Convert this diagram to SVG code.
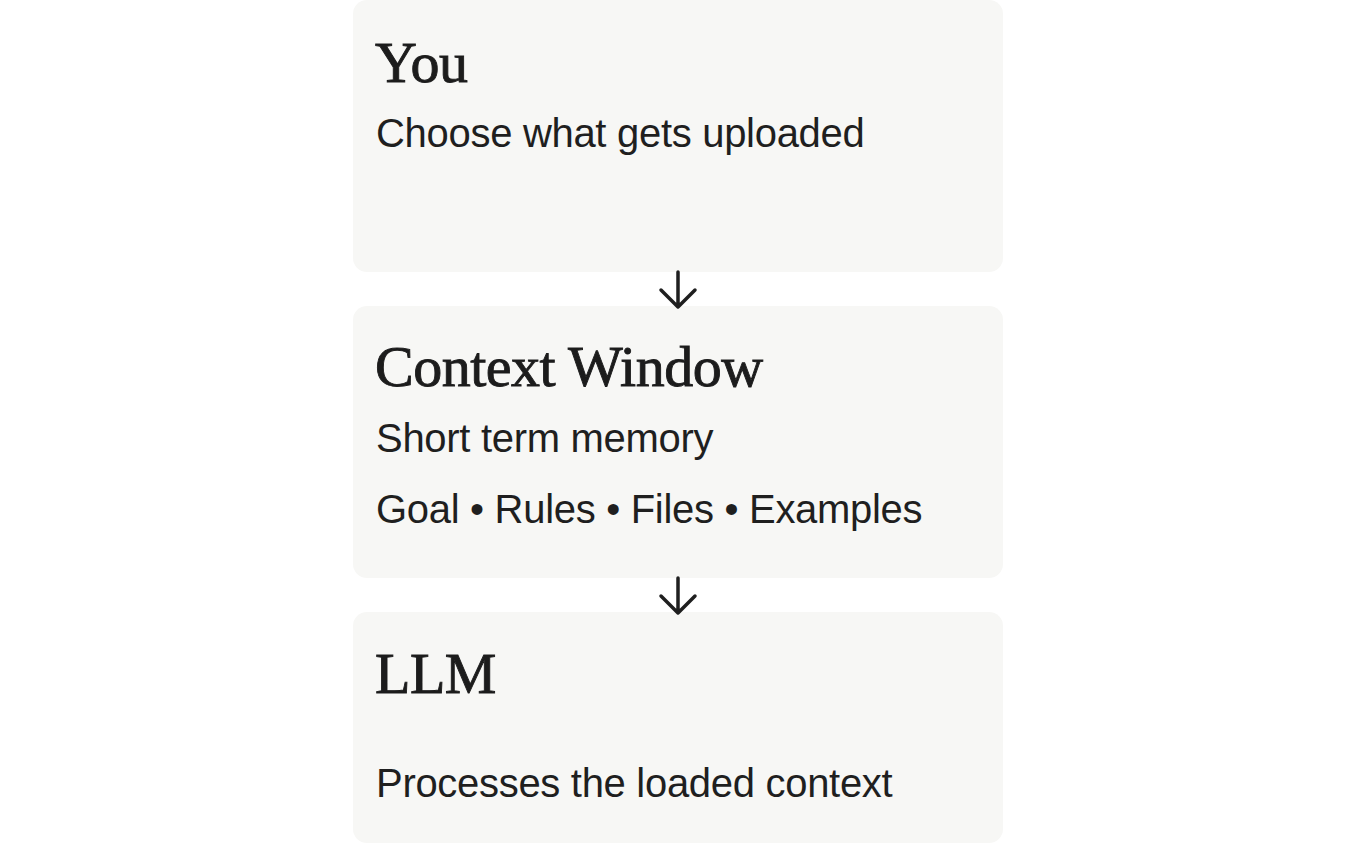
<svg xmlns="http://www.w3.org/2000/svg" width="1356" height="844" viewBox="0 0 1356 844">
  <defs>
    <style>
      .box { fill: #F7F7F5; }
      .title { font-family: "Liberation Serif", "DejaVu Serif", serif; font-size: 58px; fill: #1c1c1c; stroke: #1c1c1c; stroke-width: 0.9px; letter-spacing: -0.5px; }
      .body { font-family: "Liberation Sans", Arial, sans-serif; font-size: 40px; fill: #1f1f1f; letter-spacing: -0.3px; }
      .conn { fill: none; stroke: #1f1f1f; stroke-width: 3.5; stroke-linecap: round; stroke-linejoin: round; }
    </style>
  </defs>
  <rect width="1356" height="844" fill="#ffffff"/>
  <g id="node-you">
    <rect class="box" x="353" y="0" width="650" height="272" rx="14"/>
    <text class="title" x="375" y="82">You</text>
    <text class="body" x="376" y="147">Choose what gets uploaded</text>
  </g>
  <g id="node-context">
    <rect class="box" x="353" y="306" width="650" height="272" rx="14"/>
    <text class="title" x="375" y="386">Context Window</text>
    <text class="body" x="376" y="452">Short term memory</text>
    <text class="body" x="376" y="523">Goal • Rules • Files • Examples</text>
  </g>
  <g id="node-llm">
    <rect class="box" x="353" y="612" width="650" height="231" rx="14"/>
    <text class="title" x="375" y="693">LLM</text>
    <text class="body" x="376" y="797">Processes the loaded context</text>
  </g>
  <g id="connectors">
    <path class="conn" d="M678 272 V307 M661 290 L678 307 L695 290"/>
    <path class="conn" d="M678 578 V613 M661 596 L678 613 L695 596"/>
  </g>
</svg>
